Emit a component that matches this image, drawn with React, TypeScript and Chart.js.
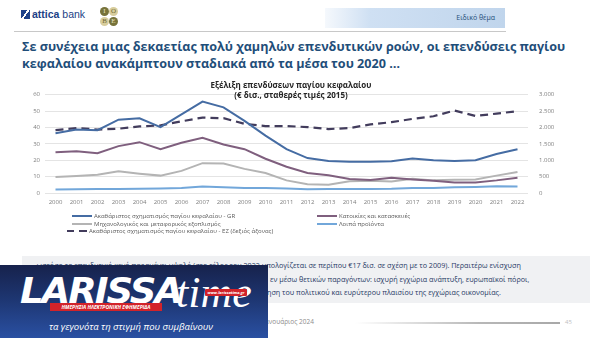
import React, { useEffect, useRef } from "react";
import { Chart, registerables } from "chart.js";

Chart.register(...registerables);

const years = ["2000","2001","2002","2003","2004","2005","2006","2007","2008","2009","2010","2011","2012","2013","2014","2015","2016","2017","2018","2019","2020","2021","2022"];
const grTotal = [36.4, 38.7, 38.3, 44.7, 45.6, 40.2, 48, 55.7, 52.2, 44, 35, 26.7, 21.3, 19.5, 19, 19, 19.3, 21, 20, 19.5, 20, 23.8, 26.7];
const housing = [24.8, 25.5, 24.2, 28.6, 31, 26.7, 30.6, 33.7, 29.6, 26.7, 20.9, 16, 12.2, 10.8, 8.6, 7.9, 9.3, 8.3, 7.4, 6.4, 6.4, 7.7, 9.3];
const machinery = [9.7, 10.4, 11.2, 13.2, 11.8, 10.6, 13.5, 18.2, 18, 14.7, 12.2, 7.7, 5.4, 5, 7.2, 7.4, 7, 8.7, 7.7, 8.1, 8.3, 10.6, 12.8];
const otherProducts = [2.1, 2.3, 2.5, 2.5, 2.6, 2.8, 3.1, 3.9, 3.5, 3.1, 3.1, 2.7, 2.3, 2.5, 2.5, 2.5, 2.6, 3.1, 3.1, 3.5, 3.7, 4.1, 3.9];
const ezTotal = [1915, 1980, 1935, 1960, 2030, 2060, 2185, 2300, 2280, 2110, 2040, 2040, 2010, 1950, 1980, 2090, 2160, 2260, 2340, 2515, 2350, 2420, 2495];

const leftAxis = { min: 0, max: 60, step: 10 };
const rightAxis = { min: 0, max: 3000, step: 500 };

const seriesNames = {
  gr: "Ακαθάριστος σχηματισμός παγίου κεφαλαίου - GR",
  housing: "Κατοικίες και κατασκευές",
  machinery: "Μηχανολογικός και μεταφορικός εξοπλισμός",
  other: "Λοιπά προϊόντα",
  ez: "Ακαθάριστος σχηματισμός παγίου κεφαλαίου - ΕΖ (δεξιός άξονας)",
};

const COLORS = {
  gr: "#456ca3",
  housing: "#7f5f7e",
  machinery: "#b4b4b4",
  other: "#72a7da",
  ez: "#423c5c",
};

const tickFont = { family: "'Open Sans', sans-serif", size: 6 };

function fmtThousands(v: number) {
  return String(v).replace(/\B(?=(\d{3})+(?!\d))/g, ".");
}

function LineChart() {
  const ref = useRef<HTMLCanvasElement | null>(null);
  useEffect(() => {
    if (!ref.current) return;
    const chart = new Chart(ref.current, {
      type: "line",
      data: {
        labels: years,
        datasets: [
          { label: seriesNames.gr, data: grTotal, borderColor: COLORS.gr, borderWidth: 2, yAxisID: "y" },
          { label: seriesNames.housing, data: housing, borderColor: COLORS.housing, borderWidth: 2, yAxisID: "y" },
          { label: seriesNames.machinery, data: machinery, borderColor: COLORS.machinery, borderWidth: 2, yAxisID: "y" },
          { label: seriesNames.other, data: otherProducts, borderColor: COLORS.other, borderWidth: 2, yAxisID: "y" },
          { label: seriesNames.ez, data: ezTotal, borderColor: COLORS.ez, borderWidth: 2.2, borderDash: [8, 5], yAxisID: "y1" },
        ],
      },
      options: {
        animation: false,
        responsive: false,
        devicePixelRatio: 1,
        layout: { padding: { top: 9, left: 0, right: 0, bottom: 0 } },
        elements: { point: { radius: 0 }, line: { tension: 0, fill: false } },
        plugins: { legend: { display: false }, title: { display: false }, tooltip: { enabled: false } },
        scales: {
          x: {
            type: "category",
            offset: true,
            grid: { display: false, drawTicks: false },
            border: { display: false },
            ticks: { font: tickFont, color: "#7f7f7f", maxRotation: 0, autoSkip: false, padding: 6 },
            afterFit: (s: any) => { s.height = 20; },
          },
          y: {
            position: "left",
            min: leftAxis.min,
            max: leftAxis.max,
            grid: { color: "#e4e4e4", lineWidth: 1, drawTicks: false },
            border: { display: false },
            ticks: { stepSize: leftAxis.step, font: tickFont, color: "#7f7f7f", padding: 5 },
            afterFit: (s: any) => { s.width = 45; },
          },
          y1: {
            position: "right",
            min: rightAxis.min,
            max: rightAxis.max,
            grid: { display: false, drawTicks: false },
            border: { display: false },
            ticks: { stepSize: rightAxis.step, font: tickFont, color: "#7f7f7f", padding: 11, callback: (v: any) => fmtThousands(Number(v)) },
            afterFit: (s: any) => { s.width = 72; },
          },
        },
      },
    } as any);
    return () => chart.destroy();
  }, []);
  return <canvas ref={ref} width={600} height={133} style={{ position: "absolute", left: 0, top: 80, width: 600, height: 133 }} />;
}

const abs = (l: number, t: number, extra: React.CSSProperties = {}): React.CSSProperties => ({ position: "absolute", left: l, top: t, ...extra });

function LegendItem({ x, y, color, label, dashed }: { x: number; y: number; color: string; label: string; dashed?: boolean }) {
  return (
    <div style={abs(x, y, { display: "flex", alignItems: "center", height: 8, whiteSpace: "nowrap" })}>
      {dashed ? (
        <div style={{ width: 20, height: 2, marginRight: 2, background: `linear-gradient(to right, ${color} 0 7px, transparent 7px 12px, ${color} 12px 20px)` }} />
      ) : (
        <div style={{ width: 20, height: 2, background: color, marginRight: 2 }} />
      )}
      <span style={{ fontSize: 6, color: "#595959", fontFamily: "'Open Sans', sans-serif" }}>{label}</span>
    </div>
  );
}

export default function App() {
  const font = "'Open Sans', sans-serif";
  return (
    <div style={{ position: "fixed", left: 0, top: 0, width: 600, height: 338, background: "#fff", overflow: "hidden", fontFamily: font }}>
      {/* header: attica bank logo */}
      <div style={abs(21, 10, { width: 9, height: 9, background: "linear-gradient(125deg, #1d4189 0 42%, #fff 42% 56%, #1d4189 56% 100%)" })} />
      <div style={abs(32, 7, { fontSize: 10.5, color: "#1d3f86", whiteSpace: "nowrap", fontFamily: "'Liberation Sans', Arial, sans-serif", lineHeight: "14px" })}>
        <b>attica</b> bank
      </div>
      {/* IOBE logo */}
      {[
        { l: 100, t: 7, c: "#77733a", ch: "I", fc: "#e8e2c0" },
        { l: 109, t: 7, c: "#d8cd9c", ch: "O", fc: "#6e6a36" },
        { l: 100, t: 17, c: "#d8cd9c", ch: "B", fc: "#6e6a36" },
        { l: 109, t: 17, c: "#77733a", ch: "E", fc: "#e8e2c0" },
      ].map((o, i) => (
        <div key={i} style={abs(o.l, o.t, { width: 9, height: 9, borderRadius: "50%", background: o.c, color: o.fc, fontSize: 7, lineHeight: "9px", textAlign: "center", fontFamily: "'Liberation Serif', serif" })}>{o.ch}</div>
      ))}
      {/* header band */}
      <div style={abs(325, 8, { width: 180, height: 20, background: "linear-gradient(to right, rgba(205,222,242,0.2), #cfe0f3 25%, #c0d5ec)" })} />
      <div style={abs(420, 8, { width: 75, height: 20, lineHeight: "20px", fontSize: 7, color: "#1f4e79", textAlign: "right", whiteSpace: "nowrap" })}>Ειδικό θέμα</div>
      <div style={abs(14, 31, { width: 492, height: 1, background: "#c8c8c8" })} />

      {/* title */}
      <div style={abs(22, 38, { fontSize: 12.6, fontWeight: 700, color: "#1f4e79", lineHeight: "17px", whiteSpace: "nowrap" })}>
        Σε συνέχεια μιας δεκαετίας πολύ χαμηλών επενδυτικών ροών, οι επενδύσεις παγίου
        <br />
        κεφαλαίου ανακάμπτουν σταδιακά από τα μέσα του 2020 …
      </div>

      <LineChart />

      {/* chart title */}
      <div style={abs(191, 80, { width: 200, textAlign: "center", fontSize: 8, fontWeight: 700, color: "#262626", lineHeight: "10px", whiteSpace: "nowrap" })}>
        Εξέλιξη επενδύσεων παγίου κεφαλαίου
        <br />
        (€ δισ., σταθερές τιμές 2015)
      </div>

      {/* legend */}
      <LegendItem x={72} y={212} color={COLORS.gr} label={seriesNames.gr} />
      <LegendItem x={72} y={219.5} color={COLORS.machinery} label={seriesNames.machinery} />
      <LegendItem x={67} y={227} color={COLORS.ez} label={seriesNames.ez} dashed />
      <LegendItem x={317} y={212} color={COLORS.housing} label={seriesNames.housing} />
      <LegendItem x={317} y={220} color={COLORS.other} label={seriesNames.other} />

      {/* text box */}
      <div style={abs(22, 256, { width: 568, height: 47, background: "#f0f1f3" })} />
      <div style={abs(29, 260, { fontSize: 7.2, color: "#1f3864", whiteSpace: "nowrap", lineHeight: "10px" })}>
        … ωστόσο το επενδυτικό κενό παραμένει υψηλό (στο τέλος του 2022 υπολογίζεται σε περίπου €17 δισ. σε σχέση με το 2009). Περαιτέρω ενίσχυση
      </div>
      <div style={abs(270, 273.5, { fontSize: 7.2, color: "#1f3864", whiteSpace: "nowrap", lineHeight: "10px" })}>
        εν μέσω θετικών παραγόντων: ισχυρή εγχώρια ανάπτυξη, ευρωπαϊκοί πόροι,
      </div>
      <div style={abs(267, 287, { fontSize: 7.2, color: "#1f3864", whiteSpace: "nowrap", lineHeight: "10px" })}>
        ηση του πολιτικού και ευρύτερου πλαισίου της εγχώριας οικονομίας.
      </div>

      {/* footer */}
      <div style={abs(263, 317, { fontSize: 6.5, color: "#8c8c8c", whiteSpace: "nowrap", lineHeight: "10px" })}>Ιανουάριος 2024</div>
      <div style={abs(355, 322, { width: 205, height: 1.5, background: "linear-gradient(to right, rgba(190,190,190,0), #b8b8b8 60%, #a8a8a8)" })} />
      <div style={abs(565, 317, { fontSize: 6, color: "#c0c0c0", lineHeight: "10px" })}>45</div>

      {/* Larissa time logo */}
      <div style={abs(0, 265, { width: 268, height: 73, background: "linear-gradient(180deg, #17224c 0%, #1d3570 45%, #2a50a2 100%)", overflow: "hidden" })}>
        <div style={abs(20, 7, { fontSize: 37, fontWeight: 700, fontStyle: "italic", color: "#fff", fontFamily: "'DejaVu Sans', sans-serif", letterSpacing: -2, lineHeight: "40px", whiteSpace: "nowrap", transform: "scaleY(0.95)" })}>LARISSA</div>
        <div style={abs(176, 5, { fontSize: 44, fontStyle: "italic", color: "#fff", fontFamily: "'Liberation Serif', serif", lineHeight: "46px", whiteSpace: "nowrap" })}>time</div>
        <div style={abs(205, 24, { width: 42, height: 7, background: "#d2232a", borderRadius: 1, color: "#fff", fontSize: 4, fontWeight: 700, fontStyle: "italic", lineHeight: "7px", textAlign: "center", whiteSpace: "nowrap" })}>www.larissatime.gr</div>
        <div style={abs(50, 38, { width: 112, height: 8, background: "#d2232a", color: "#fff", fontSize: 5, fontWeight: 700, fontStyle: "italic", lineHeight: "8px", textAlign: "center", whiteSpace: "nowrap" })}>ΗΜΕΡΗΣΙΑ ΗΛΕΚΤΡΟΝΙΚΗ ΕΦΗΜΕΡΙΔΑ</div>
        <div style={abs(0, 56, { width: 262, textAlign: "center", fontSize: 9.5, fontStyle: "italic", color: "#fff", whiteSpace: "nowrap", lineHeight: "12px" })}>τα γεγονότα τη στιγμή που συμβαίνουν</div>
      </div>
    </div>
  );
}
